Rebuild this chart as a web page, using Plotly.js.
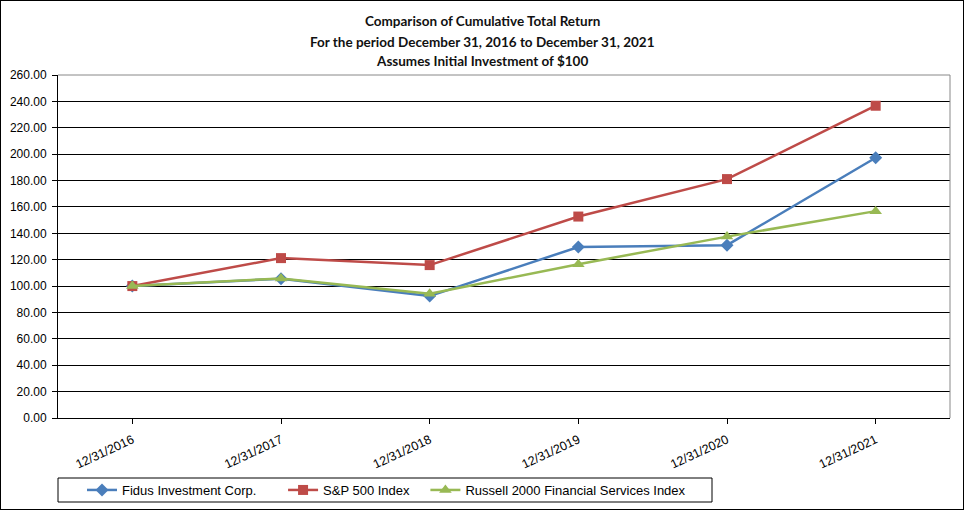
<!DOCTYPE html>
<html>
<head>
<meta charset="utf-8">
<script src="https://cdn.plot.ly/plotly-3.0.1.min.js"></script>
<style>
  html, body { margin: 0; padding: 0; background: #fff; }
  #wrap { position: relative; width: 964px; height: 511px; }
  #chart { width: 964px; height: 511px; }
  #frame { position: absolute; left: 0; top: 0; width: 964px; height: 510px; box-sizing: border-box; border: 1px solid #000; pointer-events: none; }
</style>
</head>
<body>
<div id="wrap">
  <div id="chart"></div>
  <div id="frame"></div>
</div>
<script>
const categories = ["12/31/2016", "12/31/2017", "12/31/2018", "12/31/2019", "12/31/2020", "12/31/2021"];
const fidus = [100.00, 105.6, 92.4, 129.6, 131.0, 197.3];
const sp500 = [100.00, 121.2, 115.9, 152.7, 181.1, 236.7];
const russell = [100.00, 105.8, 94.2, 116.6, 137.5, 156.8];
const seriesNames = ["Fidus Investment Corp.", "S&P 500 Index", "Russell 2000 Financial Services Index"];
const titleLines = ["Comparison of Cumulative Total Return", "For the period December 31, 2016 to December 31, 2021", "Assumes Initial Investment of $100"];

const tickFont = { family: "Liberation Sans, Arial, sans-serif", size: 12, color: "#000" };
const xTickFont = { family: "Liberation Sans, Arial, sans-serif", size: 12.5, color: "#000" };
const legendFont = { family: "Liberation Sans, Arial, sans-serif", size: 13, color: "#000" };
const NB = "\u00a0";

const traces = [
  { x: categories, y: fidus, name: seriesNames[0] + NB.repeat(6), type: "scatter", mode: "lines+markers",
    line: { color: "#4a7ebb", width: 2.5 }, marker: { symbol: "diamond", size: 10, color: "#4a7ebb" } },
  { x: categories, y: sp500, name: seriesNames[1] + NB.repeat(3), type: "scatter", mode: "lines+markers",
    line: { color: "#be4b48", width: 2.5 }, marker: { symbol: "square", size: 10, color: "#be4b48" } },
  { x: categories, y: russell, name: seriesNames[2], type: "scatter", mode: "lines+markers",
    line: { color: "#98b954", width: 2.5 }, marker: { symbol: "triangle-up", size: 11, color: "#98b954" } }
];

const titleY = [1.157, 1.097, 1.041];
const annotations = titleLines.map((t, i) => ({
  text: t, xref: "paper", yref: "paper", x: (482 - 58) / 892, y: titleY[i],
  xanchor: "center", yanchor: "middle", showarrow: false,
  font: { family: "Lato, Noto Sans, sans-serif", size: 13.5, color: "#111", weight: "bold" }
}));

const layout = {
  width: 964, height: 511,
  margin: { l: 58, r: 14, t: 75, b: 93 },
  paper_bgcolor: "#fff", plot_bgcolor: "#fff",
  showlegend: true,
  legend: {
    orientation: "h", xref: "container", yref: "container",
    x: (85 - 3) / 964, xanchor: "left", y: 1 - 490 / 511, yanchor: "middle",
    borderwidth: 0, bgcolor: "rgba(0,0,0,0)",
    font: legendFont, itemwidth: 30, tracegroupgap: 0
  },
  xaxis: {
    type: "category", range: [-0.5, 5.5], tickfont: xTickFont, tickangle: -25,
    ticks: "outside", ticklen: 5, tickcolor: "#000", automargin: false, ticklabelstandoff: 4,
    showline: true, linecolor: "#000", linewidth: 1,
    showgrid: false, zeroline: false, fixedrange: true
  },
  yaxis: {
    range: [0, 260], dtick: 20, tickformat: ".2f", tickfont: tickFont,
    ticks: "outside", ticklen: 5, tickcolor: "#000", automargin: false, ticklabelstandoff: 3,
    showline: true, linecolor: "#000", linewidth: 1,
    showgrid: true, gridcolor: "#000", gridwidth: 1, zeroline: false, fixedrange: true
  },
  shapes: [
    { type: "line", xref: "paper", yref: "paper", x0: 0, x1: 1, y0: 1, y1: 1, line: { color: "#888", width: 1 }, layer: "above" },
    { type: "line", xref: "paper", yref: "paper", x0: 1, x1: 1, y0: 0, y1: 1, line: { color: "#888", width: 1 }, layer: "above" },
    { type: "rect", xref: "paper", yref: "paper", x0: 0, x1: (712 - 58) / 892, y0: (418 - 502) / 343, y1: (418 - 478) / 343,
      line: { color: "#000", width: 1 }, fillcolor: "rgba(0,0,0,0)", layer: "below" }
  ],
  annotations: annotations
};

Plotly.newPlot("chart", traces, layout, { displayModeBar: false, staticPlot: true });
</script>
</body>
</html>
